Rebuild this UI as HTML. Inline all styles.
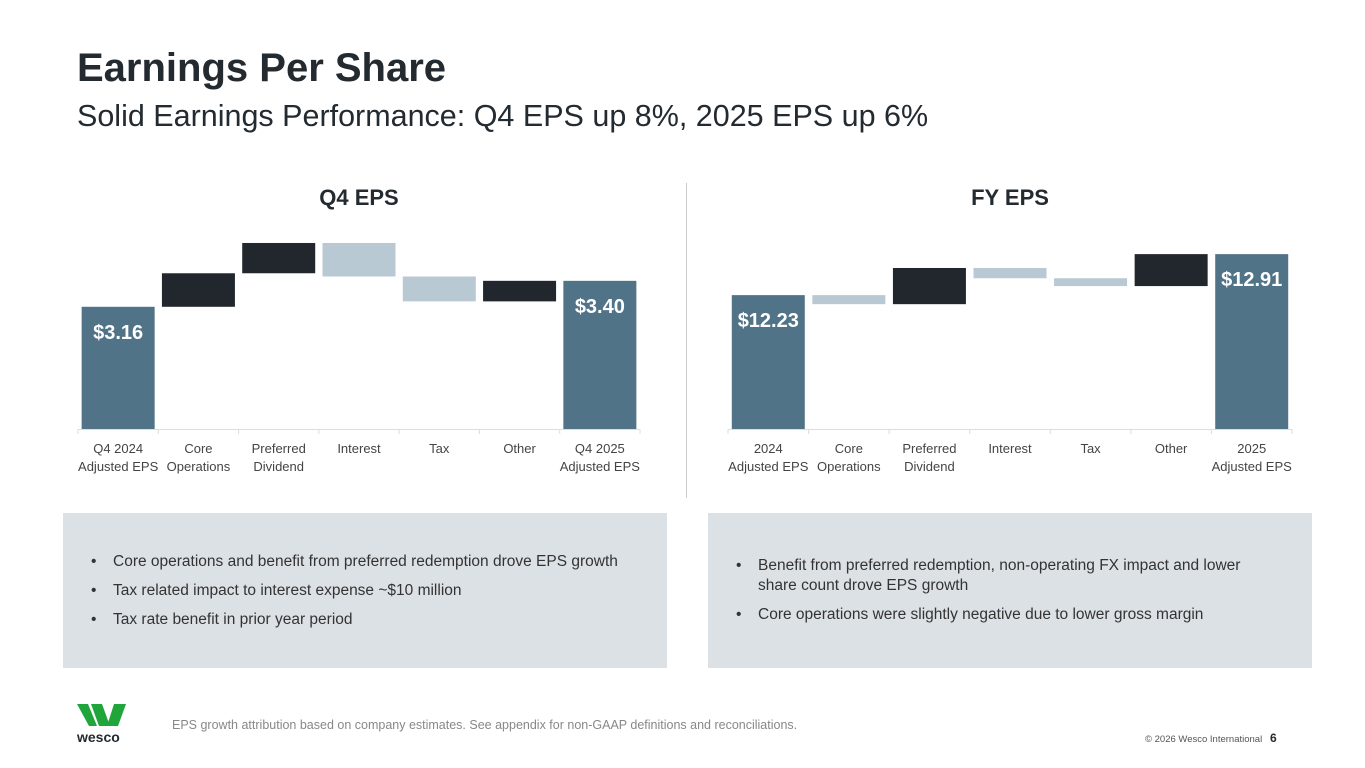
<!DOCTYPE html>
<html><head><meta charset="utf-8">
<style>
body{margin:0;width:1365px;height:768px;background:#fff;font-family:"Liberation Sans",sans-serif;position:relative;overflow:hidden;color:#222}
.abs{position:absolute}
h1{position:absolute;left:77px;top:46px;margin:0;font-size:40px;font-weight:bold;color:#232a30}
h2{position:absolute;left:77px;top:99px;margin:0;font-size:30.5px;font-weight:normal;color:#232a30}
.box{position:absolute;top:513px;width:604px;height:155px;background:#dce1e6;font-size:15.5px;color:#333}
.box ul{margin:0;padding:0 0 0 50px;list-style:none}
.box li{position:relative;line-height:20px;margin-bottom:9px}
.box li:before{content:"•";position:absolute;left:-22px}
</style></head><body>
<h1>Earnings Per Share</h1>
<h2>Solid Earnings Performance: Q4 EPS up 8%, 2025 EPS up 6%</h2>
<div class="abs" style="left:686px;top:183px;width:1px;height:315px;background:#ccc"></div>
<svg id="chart" class="abs" style="left:0;top:0" width="1365" height="500"></svg>
<div class="box" style="left:63px"><ul style="padding-top:39px">
<li>Core operations and benefit from preferred redemption drove EPS growth</li>
<li>Tax related impact to interest expense ~$10 million</li>
<li>Tax rate benefit in prior year period</li></ul></div>
<div class="box" style="left:708px"><ul style="padding-top:43px;padding-right:30px">
<li>Benefit from preferred redemption, non-operating FX impact and lower share count drove EPS growth</li>
<li>Core operations were slightly negative due to lower gross margin</li></ul></div>
<svg class="abs" style="left:77px;top:704px" width="50" height="26">
<polygon points="0,0 11,0 20,22 12,22" fill="#1fa53a"/><polygon points="14,0 25,0 33,22 22,22" fill="#1fa53a"/><polygon points="37,0 49,0 41,22 30,22" fill="#1fa53a"/></svg>
<div class="abs" style="left:77px;top:729px;font-size:14px;font-weight:bold;color:#232a30">wesco</div>
<div class="abs" style="left:172px;top:718px;font-size:12.5px;color:#888">EPS growth attribution based on company estimates.  See appendix for non-GAAP definitions and reconciliations.</div>
<div class="abs" style="left:1145px;top:734px;font-size:9.5px;color:#555">© 2026 Wesco International</div>
<div class="abs" style="left:1270px;top:731px;font-size:12px;font-weight:bold;color:#232a30">6</div>
<script>
const q4Categories=["Q4 2024|Adjusted EPS","Core|Operations","Preferred|Dividend","Interest","Tax","Other","Q4 2025|Adjusted EPS"];
const q4Start=3.16;
const q4Deltas=[0.31,0.28,-0.31,-0.23,0.19];
const q4End=3.40;
const q4Labels=["$3.16","$3.40"];
const fyCategories=["2024|Adjusted EPS","Core|Operations","Preferred|Dividend","Interest","Tax","Other","2025|Adjusted EPS"];
const fyStart=12.23;
const fyDeltas=[-0.15,0.60,-0.17,-0.13,0.53];
const fyEnd=12.91;
const fyLabels=["$12.23","$12.91"];
const svg=document.getElementById('chart');
const NS="http://www.w3.org/2000/svg";
function mk(t,a){const e=document.createElementNS(NS,t);for(const k in a)e.setAttribute(k,a[k]);svg.appendChild(e);return e;}
function draw(o){
  const y=v=>429-(v-o.min)/(o.max-o.min)*199;
  const step=(o.x1-o.x0)/7;
  const tt=mk('text',{x:(o.x0+o.x1)/2,y:205,'text-anchor':'middle','font-size':22,'font-weight':'bold',fill:'#232a30'});
  tt.textContent=o.title;
  
  
  const ax=mk('line',{x1:o.x0,x2:o.x1,y1:429.5,y2:429.5,stroke:'#ddd'});
  
  
  for(let i=0;i<=7;i++){const tk=mk('line',{x1:o.x0+i*step,x2:o.x0+i*step,y1:429,y2:434,stroke:'#ddd'});
    
    }
  const bw=73;
  const bx=i=>o.x0+i*step+(step-bw)/2;
  const endpoints=[[0,o.start,o.labels[0]],[6,o.end,o.labels[1]]];
  endpoints.forEach(([i,v,l],j)=>{
    const r=mk('rect',{x:bx(i),y:y(v),width:bw,height:429-y(v),fill:'#517387'});
    
    
    const t=mk('text',{x:bx(i)+bw/2,y:y(v)+32,'text-anchor':'middle','font-size':20,'font-weight':'bold',fill:'#fff'});
    t.textContent=l;
    
    
  });
  let cur=o.start;
  o.deltas.forEach((d,k)=>{
    const a=cur,b=cur+d;cur=b;
    const r=mk('rect',{x:bx(k+1),y:y(Math.max(a,b)),width:bw,height:Math.abs(y(a)-y(b)),fill:d>=0?'#21272d':'#b8c9d3'});
    
    
  });
  o.cats.forEach((c,i)=>{
    c.split('|').forEach((ln,j)=>{
      const t=mk('text',{x:o.x0+i*step+step/2,y:453+j*18,'text-anchor':'middle','font-size':13,fill:'#444'});
      t.textContent=ln;
      
      
    });
  });
}
draw({key:'q4',title:'Q4 EPS',x0:78,x1:640,min:2.03,max:3.87,cats:q4Categories,start:q4Start,deltas:q4Deltas,end:q4End,labels:q4Labels});
draw({key:'fy',title:'FY EPS',x0:728,x1:1292,min:10.01,max:13.31,cats:fyCategories,start:fyStart,deltas:fyDeltas,end:fyEnd,labels:fyLabels});
</script>
</body></html>
